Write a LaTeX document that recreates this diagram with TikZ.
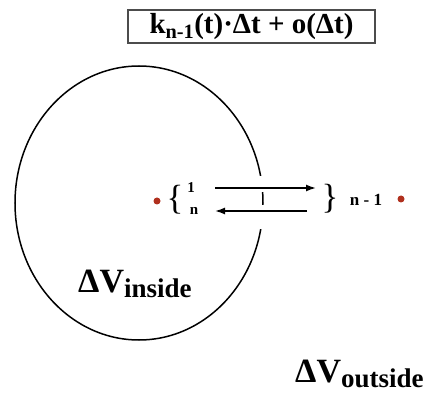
\documentclass[tikz,border=0pt]{standalone}
\usepackage{fontspec}
\setmainfont{Liberation Serif}
\usetikzlibrary{arrows.meta}
\definecolor{dotred}{HTML}{B0301E}
\begin{document}
\begin{tikzpicture}[x=1pt,y=-1pt,
  lbl/.style={inner sep=0pt,font=\bfseries},
  small/.style={inner sep=0pt,font=\bfseries\fontsize{15}{15}\selectfont},
  brace/.style={inner sep=0pt,font=\fontsize{35}{35}\selectfont},
  dot/.style={circle,fill=dotred,inner sep=0pt,minimum size=7pt},
  flow/.style={line width=1.5pt,-{Latex[length=10pt,width=7pt]}},
  gap/.style={fill=white,draw=none}]
\useasboundingbox (0,0) rectangle (424,396);
% membrane
\draw[line width=1.5pt] (139,203) ellipse [x radius=124, y radius=137];
\fill[gap] (240,176) rectangle (285,192);
\fill[gap] (240,205) rectangle (285,229);
% formula box
\node[draw=black!70,line width=1.3pt,minimum width=247pt,minimum height=33pt,inner sep=0pt,
  font=\bfseries\fontsize{29}{29}\selectfont] (rate) at (251.5,26.5)
  {k\textsubscript{n-1}(t)·Δt + o(Δt)};
% states
\node[dot] (dl) at (157,201) {};
\node[brace] (bl) at (175,200) {\{};
\node[small] (s1) at (191,188) {1};
\node[small] (sn) at (194,211) {n};
\node[brace] (br) at (330,199) {\}};
\node[lbl,font=\bfseries\fontsize{17}{17}\selectfont] (sm) at (366,200) {n - 1};
\node[dot] (dr) at (401,199) {};
\coordinate (a1) at (215,188);
\coordinate (a2) at (316,188);
\coordinate (b1) at (307,211);
\coordinate (b2) at (215,211);
\draw[flow] (a1) -- (a2);
\draw[flow] (b1) -- (b2);
% volumes
\node[lbl,anchor=base west] (vin) at (78,293)
  {\fontsize{34}{34}\selectfont ΔV\fontsize{27}{27}\selectfont\raisebox{-5pt}{inside}};
\node[lbl,anchor=base west] (vout) at (295,382)
  {\fontsize{34}{34}\selectfont ΔV\fontsize{27}{27}\selectfont\raisebox{-5pt}{outside}};
\end{tikzpicture}
\end{document}
